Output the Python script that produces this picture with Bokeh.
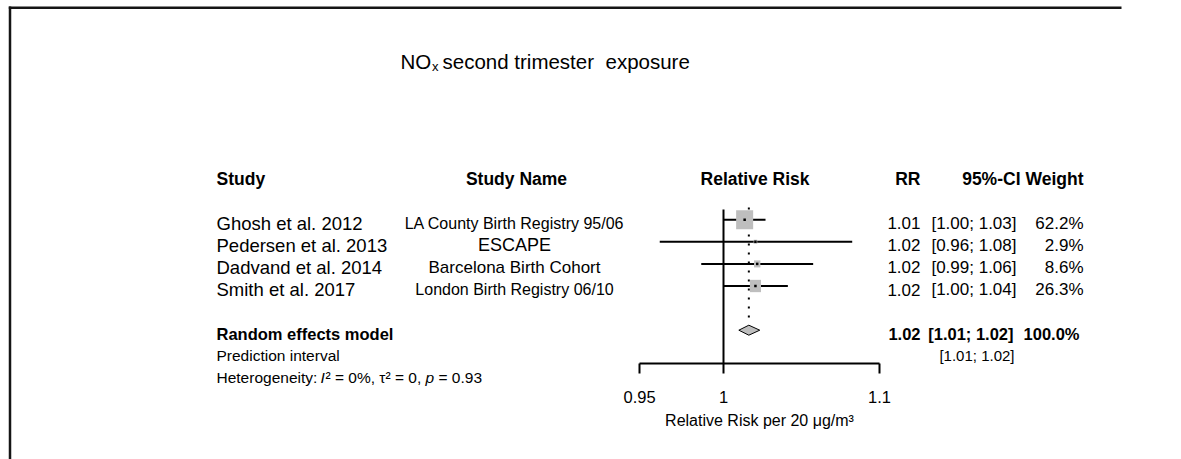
import math

from bokeh.core.properties import value
from bokeh.embed import file_html
from bokeh.models import ColumnDataSource, FixedTicker, LinearAxis, LinearScale, Range1d
from bokeh.plotting import figure
from bokeh.resources import INLINE

# ---- study data -------------------------------------------------------------
studies = ["Ghosh et al. 2012", "Pedersen et al. 2013", "Dadvand et al. 2014", "Smith et al. 2017"]
study_names = ["LA County Birth Registry 95/06", "ESCAPE", "Barcelona Birth Cohort",
               "London Birth Registry 06/10"]
rr = [1.013, 1.0197, 1.0208, 1.0197]
ci_lower = [1.0002, 0.9618, 0.9865, 1.0002]
ci_upper = [1.026, 1.0818, 1.0563, 1.0401]
weights = [62.2, 2.9, 8.6, 26.3]

# random effects summary
pooled_rr = 1.0156
pooled_lower = 1.0094
pooled_upper = 1.0224
pooled_weight = 100.0
pred_lower = 1.0094
pred_upper = 1.0224
het_i2 = 0
het_tau2 = 0
het_p = 0.93

null_value = 1
axis_ticks = [0.95, 1, 1.1]
axis_tick_labels = ["0.95", "1", "1.1"]
headers = ["Study", "Study Name", "Relative Risk", "RR", "95%-CI", "Weight"]

# ---- page layout --------------------------------------------------------------
W, H = 1181, 459
FONT = "Liberation Sans"
ROW0 = 175.0      # pixel y of row 0 (header)
ROW_H = 22.1      # pixels per table row
REF_PX = 723.0    # pixel x of RR = 1
PX_PER_LN = 1637.0
TEXT_DY = 3.5
name_sizes = [16, 18, 17, 16]   # font size of each study-name entry


def row_of(py):
    return (py - ROW0) / ROW_H


study_rows = [2, 3, 4, 5]
pooled_row, pred_row, het_row = 7, 8, 9
axis_row = row_of(363)

p = figure(
    width=W, height=H,
    x_axis_type="log",
    x_range=Range1d(math.exp(-REF_PX / PX_PER_LN), math.exp((W - REF_PX) / PX_PER_LN)),
    y_range=Range1d(row_of(H), row_of(0)),
    x_axis_location=None, y_axis_location=None,
    toolbar_location=None, output_backend="svg",
    min_border=0, outline_line_color=None,
    background_fill_color="white", border_fill_color="white",
)
p.grid.visible = False
p.extra_x_ranges = {"page_x": Range1d(0, W)}
p.extra_x_scales = {"page_x": LinearScale()}
p.extra_y_ranges = {"page_y": Range1d(H, 0)}
p.extra_y_scales = {"page_y": LinearScale()}


def add_text(xs, ys, texts, size, align="left", style="normal", y_range_name="default", dy=TEXT_DY):
    src = ColumnDataSource(dict(x=xs, y=ys, text=texts))
    p.text(x="x", y="y", text="text", source=src,
           x_range_name="page_x", y_range_name=y_range_name,
           text_font=value(FONT), text_font_size=value(f"{size}px"),
           text_font_style=style, text_align=align, text_baseline="middle",
           y_offset=dy, text_color="black")


# ---- frame lines (top and left edge of the panel) -------------------------------
p.segment(x0=[8.3, 9.5], y0=[7.3, 6.1], x1=[W - 60, 9.5], y1=[7.3, H + 10],
          x_range_name="page_x", y_range_name="page_y",
          line_color="#151515", line_width=2.5)

# ---- title ------------------------------------------------------------------------
add_text([400], [61], ["NO"], 20.5, y_range_name="page_y", dy=0)
add_text([431.5], [66], ["x"], 13, y_range_name="page_y", dy=0)
add_text([442], [61], ["second trimester"], 20.5, y_range_name="page_y", dy=0)
add_text([605], [61], ["exposure"], 20.5, y_range_name="page_y", dy=0)

# ---- column headers -----------------------------------------------------------
add_text([216], [0], [headers[0]], 17.5, "left", "bold")
add_text([516], [0], [headers[1]], 17.5, "center", "bold")
add_text([754.5], [0], [headers[2]], 17.5, "center", "bold")
add_text([920], [0], [headers[3]], 17.5, "right", "bold")
add_text([1020], [0], [headers[4]], 17.5, "right", "bold")
add_text([1083], [0], [headers[5]], 17.5, "right", "bold")

# ---- study rows --------------------------------------------------------------------
n = len(studies)
add_text([216] * n, study_rows, studies, 18.5, "left")
for row, name, size in zip(study_rows, study_names, name_sizes):
    add_text([514], [row], [name], size, "center")
add_text([920] * n, study_rows, [f"{v:.2f}" for v in rr], 17, "right")
add_text([1016] * n, study_rows,
         [f"[{lo:.2f}; {hi:.2f}]" for lo, hi in zip(ci_lower, ci_upper)], 17, "right")
add_text([1083] * n, study_rows, [f"{w:.1f}%" for w in weights], 17, "right")

# ---- summary rows ----------------------------------------------------------------
add_text([216], [pooled_row], ["Random effects model"], 16.5, "left", "bold")
add_text([920], [pooled_row], [f"{pooled_rr:.2f}"], 16.5, "right", "bold")
add_text([1013], [pooled_row], [f"[{pooled_lower:.2f}; {pooled_upper:.2f}]"], 16.5, "right", "bold")
add_text([1079], [pooled_row], [f"{pooled_weight:.1f}%"], 16.5, "right", "bold")

add_text([216], [pred_row], ["Prediction interval"], 15.5, "left")
add_text([1014], [pred_row], [f"[{pred_lower:.2f}; {pred_upper:.2f}]"], 15, "right")

add_text([216], [het_row], ["Heterogeneity:"], 15.5, "left")
add_text([320], [het_row], ["I"], 15.5, "left", "italic")
add_text([325], [het_row], [f"\u00b2 = {het_i2}%, \u03c4\u00b2 = {het_tau2},"], 15.5, "left")
add_text([425], [het_row], ["p"], 15.5, "left", "italic")
add_text([438], [het_row], [f"= {het_p:.2f}"], 15.5, "left")

# ---- forest marks ----------------------------------------------------------------
# line of no effect
p.segment(x0=[null_value], y0=[row_of(209)], x1=[null_value], y1=[axis_row],
          line_color="black", line_width=2)
# pooled estimate, dotted
p.segment(x0=[pooled_rr], y0=[row_of(207)], x1=[pooled_rr], y1=[row_of(320)],
          line_color="black", line_width=2, line_dash="2 7")

study_src = ColumnDataSource(dict(
    row=study_rows, rr=rr, lo=ci_lower, hi=ci_upper,
    bw=[2.16 * math.sqrt(w) for w in weights],
    bh=[2.4 * math.sqrt(w) for w in weights],
))
p.segment(x0="lo", y0="row", x1="hi", y1="row", source=study_src,
          line_color="black", line_width=2)
p.rect(x="rr", y="row", width="bw", height="bh", width_units="screen", height_units="screen",
       source=study_src, fill_color="#BEBEBE", line_color=None)
p.scatter(x="rr", y="row", source=study_src, marker="square", size=2.5,
          fill_color="black", line_color=None)

half_h = 5 / ROW_H
p.patch(x=[pooled_lower, pooled_rr, pooled_upper, pooled_rr],
        y=[pooled_row, pooled_row - half_h, pooled_row, pooled_row + half_h],
        fill_color="#BEBEBE", line_color="black", line_width=1)

# ---- RR axis -----------------------------------------------------------------------
axis = LinearAxis(
    fixed_location=axis_row,
    ticker=FixedTicker(ticks=axis_ticks),
    bounds=(min(axis_ticks), max(axis_ticks)),
    major_label_overrides=dict(zip(axis_ticks, axis_tick_labels)),
    major_tick_in=0, major_tick_out=10,
    minor_tick_in=0, minor_tick_out=0,
    axis_line_width=2, major_tick_line_width=2,
    axis_line_color="black", major_tick_line_color="black",
    major_label_text_font=FONT, major_label_text_font_size="16.5px",
    major_label_text_color="black", major_label_standoff=17,
    axis_label="Relative Risk per 20 \u03bcg/m\u00b3",
    axis_label_text_font=FONT, axis_label_text_font_size="16px",
    axis_label_text_font_style="normal", axis_label_text_color="black",
    axis_label_standoff=6,
)
p.add_layout(axis, "below")

open("out.html", "w").write(file_html(p, INLINE))
